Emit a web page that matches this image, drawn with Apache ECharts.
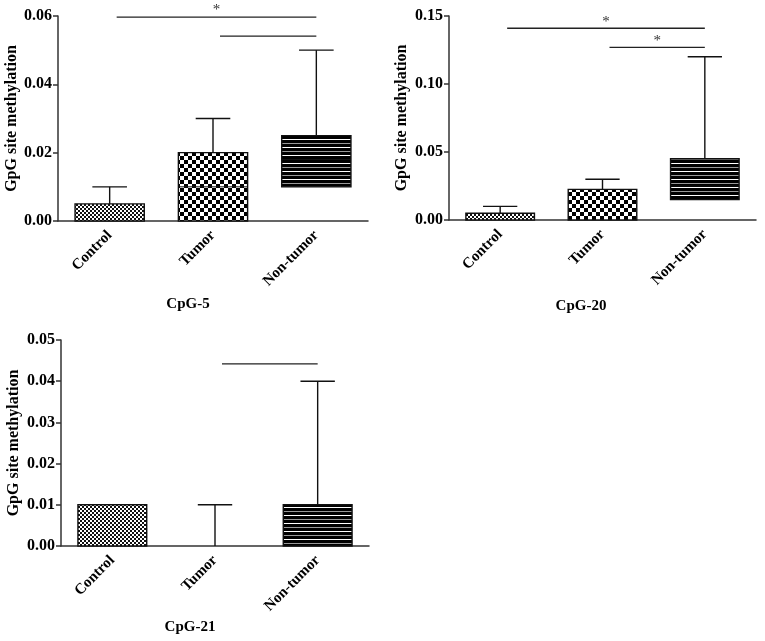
<!DOCTYPE html>
<html>
<head>
<meta charset="utf-8">
<script src="https://cdn.jsdelivr.net/npm/echarts@6/dist/echarts.min.js"></script>
<style>
html,body{margin:0;padding:0;background:#fff;}
#chart{width:765px;height:641px;}
</style>
</head>
<body>
<div id="chart"></div>
<script>
// ---------- DATA ----------
const categories = ['Control', 'Tumor', 'Non-tumor'];
const panelTitles = ['CpG-5', 'CpG-20', 'CpG-21'];
const yAxisTitle = 'GpG site methylation';
// box data: [categoryIndex, min, Q1, median, Q3, max]
const cpg5Boxes = [
  [0, 0, 0, 0, 0.005, 0.01],
  [1, 0, 0, 0.01, 0.02, 0.03],
  [2, 0, 0.01, 0.018, 0.025, 0.05]
];
const cpg20Boxes = [
  [0, 0, 0, 0, 0.005, 0.01],
  [1, 0, 0, 0, 0.0225, 0.03],
  [2, 0, 0.015, 0.025, 0.045, 0.12]
];
const cpg21Boxes = [
  [0, 0, 0, 0, 0.01, 0.01],
  [1, 0, 0, 0, 0, 0.01],
  [2, 0, 0, 0, 0.01, 0.04]
];
// significance brackets: [fromIndex, toIndex, yValue]
const cpg5Sig = [[0, 2, 0.0597], [1, 2, 0.0541]];
const cpg5SigLabels = ['*', ''];
const cpg20Sig = [[0, 2, 0.141], [1, 2, 0.127]];
const cpg20SigLabels = ['*', '*'];
const cpg21Sig = [[1, 2, 0.0442]];
const cpg21SigLabels = [''];
// y axis ranges: [max, interval]
const yRanges = [[0.06, 0.02], [0.15, 0.05], [0.05, 0.01]];

// ---------- PATTERNS ----------
function makeCanvas(w, h, draw) {
  const c = document.createElement('canvas');
  c.width = w; c.height = h;
  const ctx = c.getContext('2d');
  draw(ctx);
  return c;
}
const fineCheck = makeCanvas(4, 4, ctx => {
  ctx.fillStyle = '#fff'; ctx.fillRect(0, 0, 4, 4);
  ctx.fillStyle = '#111'; ctx.fillRect(0, 0, 2, 2); ctx.fillRect(2, 2, 2, 2);
});
const bigCheck = makeCanvas(8, 8, ctx => {
  ctx.fillStyle = '#fff'; ctx.fillRect(0, 0, 8, 8);
  ctx.fillStyle = '#000'; ctx.fillRect(0, 0, 4, 4); ctx.fillRect(4, 4, 4, 4);
});
const stripes = makeCanvas(4, 8, ctx => {
  ctx.fillStyle = '#000'; ctx.fillRect(0, 0, 4, 8);
  ctx.fillStyle = '#fff'; ctx.fillRect(0, 3, 4, 1);
  ctx.fillStyle = '#999'; ctx.fillRect(0, 7, 4, 1);
});
const fills = [
  { image: fineCheck, repeat: 'repeat' },
  { image: bigCheck, repeat: 'repeat' },
  { image: stripes, repeat: 'repeat' }
];

const FONT = '"Liberation Serif", "Times New Roman", serif';
const AXIS_COLOR = '#333';

function renderBox(params, api) {
  const idx = api.value(0);
  const lo = api.coord([idx, api.value(1)]);
  const q1 = api.coord([idx, api.value(2)]);
  const med = api.coord([idx, api.value(3)]);
  const q3 = api.coord([idx, api.value(4)]);
  const hi = api.coord([idx, api.value(5)]);
  const band = api.size([1, 0])[0];
  const bw = band * 0.67;
  const cw = bw * 0.5;
  const x = lo[0];
  const ls = { stroke: '#111', lineWidth: 1.4, fill: null };
  const children = [];
  if (q1[1] - lo[1] > 0.5) {
    children.push({ type: 'line', shape: { x1: x, y1: lo[1], x2: x, y2: q1[1] }, style: ls });
  }
  if (q3[1] - hi[1] > 0.5) {
    children.push({ type: 'line', shape: { x1: x, y1: q3[1], x2: x, y2: hi[1] }, style: ls });
    children.push({ type: 'line', shape: { x1: x - cw / 2, y1: hi[1], x2: x + cw / 2, y2: hi[1] }, style: ls });
  }
  const h = q1[1] - q3[1];
  if (h > 0.5) {
    children.push({
      type: 'rect',
      shape: { x: x - bw / 2, y: q3[1], width: bw, height: h },
      style: { fill: fills[idx], stroke: '#111', lineWidth: 1.4 }
    });
    if (med[1] < q1[1] - 0.5 && med[1] > q3[1] + 0.5) {
      children.push({ type: 'line', shape: { x1: x - bw / 2, y1: med[1], x2: x + bw / 2, y2: med[1] }, style: { stroke: '#111', lineWidth: 1 } });
    }
  }
  return { type: 'group', children };
}

function makeSigRenderer(labels) {
  return function (params, api) {
    const a = api.coord([api.value(0), api.value(2)]);
    const b = api.coord([api.value(1), api.value(2)]);
    const x1 = a[0] + 7, x2 = b[0];
    const children = [
      { type: 'line', shape: { x1: x1, y1: a[1], x2: x2, y2: a[1] }, style: { stroke: '#222', lineWidth: 1.3 } }
    ];
    const lab = labels[params.dataIndex];
    if (lab) {
      children.push({
        type: 'text',
        style: {
          text: lab, x: (x1 + x2) / 2, y: a[1] + 1,
          align: 'center', verticalAlign: 'bottom',
          font: '15px ' + FONT, fill: '#333'
        }
      });
    }
    return { type: 'group', children };
  };
}

const grids = [
  { left: 58, top: 16, width: 310, height: 205 },
  { left: 449, top: 16, width: 307, height: 204 },
  { left: 61, top: 340, width: 308, height: 206 }
];
const nameGaps = [37, 39, 39];

const xAxes = grids.map((g, i) => ({
  type: 'category', gridIndex: i, data: categories,
  axisLine: { lineStyle: { color: AXIS_COLOR, width: 1.5 } },
  axisTick: { alignWithLabel: true, length: 5, lineStyle: { color: AXIS_COLOR, width: 1.5 } },
  axisLabel: { rotate: 45, margin: 12, color: '#000', fontFamily: FONT, fontWeight: 'bold', fontSize: 15, interval: 0 },
  splitLine: { show: false }
}));
const yAxes = grids.map((g, i) => ({
  type: 'value', gridIndex: i, min: 0, max: yRanges[i][0], interval: yRanges[i][1],
  name: yAxisTitle, nameLocation: 'middle', nameGap: nameGaps[i],
  nameTextStyle: { color: '#000', fontFamily: FONT, fontWeight: 'bold', fontSize: 16 },
  axisLine: { show: true, lineStyle: { color: AXIS_COLOR, width: 1.5 } },
  axisTick: { show: true, length: 5, lineStyle: { color: AXIS_COLOR, width: 1.5 } },
  axisLabel: { margin: 6, color: '#000', fontFamily: FONT, fontWeight: 'bold', fontSize: 16, formatter: v => v.toFixed(2) },
  splitLine: { show: false }
}));

const boxSets = [cpg5Boxes, cpg20Boxes, cpg21Boxes];
const sigSets = [cpg5Sig, cpg20Sig, cpg21Sig];
const sigLabelSets = [cpg5SigLabels, cpg20SigLabels, cpg21SigLabels];
const series = [];
for (let i = 0; i < 3; i++) {
  series.push({
    type: 'custom', xAxisIndex: i, yAxisIndex: i, renderItem: renderBox,
    data: boxSets[i], encode: { x: 0, y: [1, 2, 3, 4, 5] }, clip: false, silent: true
  });
  series.push({
    type: 'custom', xAxisIndex: i, yAxisIndex: i, renderItem: makeSigRenderer(sigLabelSets[i]),
    data: sigSets[i], encode: { x: [0, 1], y: 2 }, clip: false, silent: true
  });
}

const titlePos = [[188, 304], [581, 306], [190, 627]];
const graphic = panelTitles.map((t, i) => ({
  type: 'text', x: titlePos[i][0], y: titlePos[i][1],
  style: { text: t, align: 'center', verticalAlign: 'middle', font: 'bold 15px ' + FONT, fill: '#000' }
}));

const chart = echarts.init(document.getElementById('chart'), null, { renderer: 'canvas' });
chart.setOption({
  animation: false,
  backgroundColor: '#fff',
  grid: grids,
  xAxis: xAxes,
  yAxis: yAxes,
  series: series,
  graphic: graphic
});
</script>
</body>
</html>
